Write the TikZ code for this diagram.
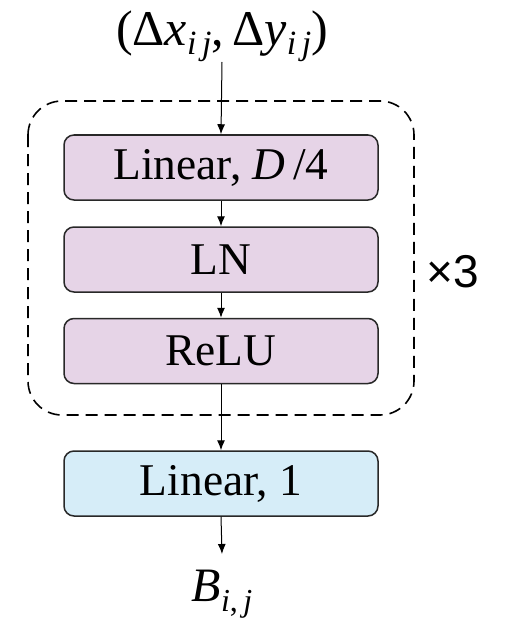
\documentclass[tikz,border=0pt]{standalone}
\usepackage{fontspec}
\setmainfont{Liberation Serif}
\newfontfamily\sansf{Liberation Sans}
\usetikzlibrary{arrows.meta}
\definecolor{pinkfill}{RGB}{230,212,231}
\definecolor{bluefill}{RGB}{214,237,248}
\definecolor{edge}{RGB}{40,40,40}
\tikzset{
  blockbox/.style={draw=edge, line width=0.75pt, rounded corners=5pt,
    minimum width=157pt, minimum height=32.5pt, inner sep=0pt,
    font=\fontsize{22.7}{26}\selectfont},
  pinkbox/.style={blockbox, fill=pinkfill},
  bluebox/.style={blockbox, fill=bluefill},
  arr/.style={draw=black, line width=0.5pt, -{Latex[length=5pt,width=4pt]}},
  repeatbox/.style={draw=black, line width=0.8pt, dash pattern=on 6pt off 3.5pt, rounded corners=17pt},
  lbl/.style={inner sep=0pt}
}
\begin{document}
\begin{tikzpicture}[x=0.5pt,y=-0.5pt]
\useasboundingbox[fill=white] (0,0) rectangle (510,626);
\draw[repeatbox] (28,101) rectangle (414,415);
\node[pinkbox] (l1) at (221,167.5) {Linear, \textit{D}\,/4};
\node[pinkbox] (ln) at (221,259.5) {LN};
\node[pinkbox] (relu) at (221,351) {ReLU};
\node[bluebox] (l2) at (221,483.5) {Linear, 1};
\node[lbl, font=\fontsize{25}{28}\selectfont, anchor=south] (inp) at (222,62)
  {(Δ\textit{x}\raisebox{-0.4ex}{\fontsize{17}{20}\selectfont\textit{i\,j}},\,Δ\textit{y}\raisebox{-0.4ex}{\fontsize{17}{20}\selectfont\textit{i\,j}})};
\node[lbl, font=\fontsize{24}{28}\selectfont, anchor=north] (out) at (222,570)
  {\textit{B}\raisebox{-0.45ex}{\fontsize{16}{18}\selectfont\textit{i},\,\textit{j}}};
\node[lbl, font=\sansf\fontsize{23}{26}\selectfont] (times) at (453,272) {×3};
\draw[arr] (inp.south) -- (l1.north);
\draw[arr] (l1) -- (ln);
\draw[arr] (ln) -- (relu);
\draw[arr] (relu) -- (l2);
\draw[arr] (l2.south) -- ([yshift=8pt]out.north);
\end{tikzpicture}
\end{document}
